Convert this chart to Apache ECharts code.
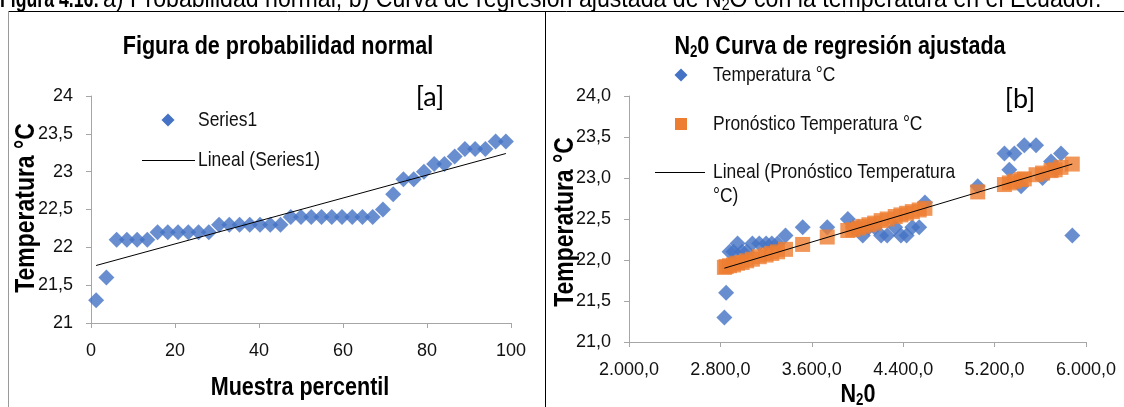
<!DOCTYPE html>
<html><head><meta charset="utf-8">
<script src="https://cdn.jsdelivr.net/npm/echarts@6/dist/echarts.min.js"></script>
<style>html,body{margin:0;padding:0;background:#fff}#c{width:1124px;height:407px}</style>
</head><body><div id="c"></div>
<script>
// ---- Panel a: normal probability plot ----
var percentil = [1.22,3.66,6.10,8.54,10.98,13.41,15.85,18.29,20.73,23.17,25.61,28.05,30.49,32.93,35.37,37.80,40.24,42.68,45.12,47.56,50.00,52.44,54.88,57.32,59.76,62.20,64.63,67.07,69.51,71.95,74.39,76.83,79.27,81.71,84.15,86.59,89.02,91.46,93.90,96.34,98.78];
var tempSorted = [21.3,21.6,22.1,22.1,22.1,22.1,22.2,22.2,22.2,22.2,22.2,22.2,22.3,22.3,22.3,22.3,22.3,22.3,22.3,22.4,22.4,22.4,22.4,22.4,22.4,22.4,22.4,22.4,22.5,22.7,22.9,22.9,23.0,23.1,23.1,23.2,23.3,23.3,23.3,23.4,23.4];
var trendA_x = [1.22, 98.78];
var trendA_y = [21.76, 23.24];
var ticksAx = [0,20,40,60,80,100];

// ---- Panel b: N2O regression ----
var n2o = [2835,2850,2880,2915,2950,2990,3030,3080,3140,3200,3250,3300,3370,3520,3735,3915,3960,4010,4046,4100,4150,4207,4260,4330,4380,4430,4480,4540,4590,5052,5286,5329,5373,5432,5460,5563,5620,5694,5730,5781,5880];
var tempB = [21.3,21.6,22.1,22.1,22.2,22.1,22.1,22.2,22.2,22.2,22.2,22.2,22.3,22.4,22.4,22.5,22.4,22.4,22.3,22.4,22.4,22.3,22.3,22.4,22.3,22.3,22.4,22.4,22.7,22.9,23.3,23.1,23.3,22.9,23.4,23.4,23.0,23.2,23.1,23.3,22.3];
var pronostico = [21.91,21.92,21.93,21.94,21.96,21.97,21.99,22.01,22.04,22.06,22.08,22.10,22.13,22.19,22.28,22.36,22.37,22.39,22.41,22.43,22.45,22.48,22.50,22.53,22.55,22.57,22.59,22.61,22.63,22.83,22.92,22.94,22.96,22.98,22.99,23.04,23.06,23.09,23.10,23.13,23.17];
var trendB_x = [2835, 5880];
var trendB_y = [21.90, 23.17];
var ticksBx = [2000,2800,3600,4400,5200,6000];

var BLUE = '#4472C4', ORANGE = '#ED7D31';
var SANS = '"Liberation Sans",Arial,sans-serif';
var NX = 0.83; // horizontal squeeze to imitate a narrow face

function zip(a, b) { return a.map(function (v, i) { return [v, b[i]]; }); }
function fmtDec1(v) { return v.toFixed(1).replace('.', ','); }
function fmtThousands(v) {
  var s = v.toFixed(1).split('.');
  return s[0].replace(/\B(?=(\d{3})+(?!\d))/g, '.') + ',' + s[1];
}

var axisLineStyle = { color: '#a6a6a6', width: 1 };
var labelStyle = { color: '#111', fontFamily: SANS, fontSize: 18 };

function txt(x, y, s, size, opts) {
  opts = opts || {};
  return { type: 'text', x: x, y: y, rotation: opts.rot || 0, scaleX: opts.sx == null ? NX : opts.sx,
    style: { text: s, fontFamily: opts.font || SANS, fontWeight: opts.bold ? 'bold' : 'normal', fontSize: size,
      fill: opts.fill || '#111', align: opts.align || 'left', verticalAlign: 'middle', rich: opts.rich } };
}
function subRich(size, bold) {
  return { n: { fontFamily: SANS, fontWeight: bold ? 'bold' : 'normal', fontSize: size, fill: '#000' },
           s: { fontFamily: SANS, fontWeight: bold ? 'bold' : 'normal', fontSize: Math.round(size * 0.62), fill: '#000', padding: [Math.round(size * 0.45), 0, 0, 0] } };
}

var captionText = '{r|a) Probabilidad normal, b) Curva de regresión ajustada de N}{s|2}{r|O con la temperatura en el Ecuador.}';

var chart = echarts.init(document.getElementById('c'), null, { renderer: 'canvas' });
chart.setOption({
  animation: false,
  backgroundColor: '#fff',
  grid: [
    { left: 91, top: 96, width: 420, height: 227 },
    { left: 629, top: 96, width: 457, height: 246 }
  ],
  xAxis: [
    { gridIndex: 0, type: 'value', min: 0, max: 100, interval: 20,
      axisLine: { show: true, lineStyle: axisLineStyle },
      axisTick: { show: true, length: 5, lineStyle: axisLineStyle },
      splitLine: { show: false },
      axisLabel: Object.assign({ margin: 19 }, labelStyle) },
    { gridIndex: 1, type: 'value', min: 2000, max: 6000,
      axisLine: { show: true, lineStyle: axisLineStyle },
      axisTick: { show: true, length: 5, lineStyle: axisLineStyle, customValues: ticksBx },
      splitLine: { show: false },
      axisLabel: Object.assign({ margin: 19, customValues: ticksBx, formatter: fmtThousands }, labelStyle) }
  ],
  yAxis: [
    { gridIndex: 0, type: 'value', min: 21, max: 24, interval: 0.5,
      axisLine: { show: true, lineStyle: axisLineStyle },
      axisTick: { show: true, length: 5, lineStyle: axisLineStyle },
      splitLine: { show: false },
      axisLabel: Object.assign({ margin: 18, formatter: function (v) { return String(v).replace('.', ','); } }, labelStyle) },
    { gridIndex: 1, type: 'value', min: 21, max: 24, interval: 0.5,
      axisLine: { show: true, lineStyle: axisLineStyle },
      axisTick: { show: true, length: 5, lineStyle: axisLineStyle },
      splitLine: { show: false },
      axisLabel: Object.assign({ margin: 18, formatter: fmtDec1 }, labelStyle) }
  ],
  series: [
    { name: 'Series1', type: 'scatter', xAxisIndex: 0, yAxisIndex: 0,
      symbol: 'diamond', symbolSize: 16, itemStyle: { color: BLUE },
      data: zip(percentil, tempSorted), z: 2 },
    { name: 'Lineal (Series1)', type: 'line', xAxisIndex: 0, yAxisIndex: 0,
      showSymbol: false, symbol: 'none', lineStyle: { color: '#000', width: 1 },
      data: zip(trendA_x, trendA_y), z: 3 },
    { name: 'Temperatura °C', type: 'scatter', xAxisIndex: 1, yAxisIndex: 1,
      symbol: 'diamond', symbolSize: 16, itemStyle: { color: BLUE },
      data: zip(n2o, tempB), z: 2 },
    { name: 'Pronóstico Temperatura °C', type: 'scatter', xAxisIndex: 1, yAxisIndex: 1,
      symbol: 'rect', symbolSize: 15, itemStyle: { color: ORANGE },
      data: zip(n2o, pronostico), z: 3 },
    { name: 'Lineal (Pronóstico Temperatura °C)', type: 'line', xAxisIndex: 1, yAxisIndex: 1,
      showSymbol: false, symbol: 'none', lineStyle: { color: '#000', width: 1 },
      data: zip(trendB_x, trendB_y), z: 4 }
  ],
  graphic: [
    // panel frames
    { type: 'line', shape: { x1: 8.5, y1: 11.5, x2: 1124, y2: 11.5 }, style: { stroke: '#000', lineWidth: 1 } },
    { type: 'line', shape: { x1: 8.5, y1: 11.5, x2: 8.5, y2: 407 }, style: { stroke: '#9a9a9a', lineWidth: 1 } },
    { type: 'line', shape: { x1: 545.5, y1: 11.5, x2: 545.5, y2: 407 }, style: { stroke: '#000', lineWidth: 1 } },
    // caption (cut at top)
    txt(0, 0, 'Figura 4.16:', 26, { bold: true, sx: 0.68, fill: '#000' }),
    txt(103, 0, captionText, 26, { sx: 0.89, rich: {
        r: { fontFamily: SANS, fontSize: 26, fill: '#000' },
        s: { fontFamily: SANS, fontSize: 16, fill: '#000', padding: [11, 0, 0, 0] } } }),
    // titles
    txt(278, 47, 'Figura de probabilidad normal', 26, { bold: true, align: 'center', fill: '#000' }),
    txt(840, 47, '{n|N}{s|2}{n|0 Curva de regresión ajustada}', 26, { align: 'center', rich: subRich(26, true) }),
    // panel tags
    txt(430, 97, '[a]', 27, { font: 'Lato,"Open Sans",sans-serif', sx: 1, align: 'center', fill: '#000' }),
    txt(1020, 99, '[b]', 27, { font: 'Lato,"Open Sans",sans-serif', sx: 1, align: 'center', fill: '#000' }),
    // axis titles
    txt(27, 208, 'Temperatura °C', 27, { bold: true, rot: Math.PI / 2, sx: 0.85, align: 'center', fill: '#000' }),
    txt(566, 222, 'Temperatura °C', 27, { bold: true, rot: Math.PI / 2, sx: 0.85, align: 'center', fill: '#000' }),
    txt(300, 388, 'Muestra percentil', 26, { bold: true, align: 'center', fill: '#000' }),
    txt(858, 395, '{n|N}{s|2}{n|0}', 26, { align: 'center', rich: subRich(26, true) }),
    // legend a
    { type: 'polygon', shape: { points: [[168, 113.5], [174.5, 120], [168, 126.5], [161.5, 120]] }, style: { fill: BLUE } },
    txt(198, 120, 'Series1', 21),
    { type: 'line', shape: { x1: 142, y1: 160.5, x2: 195, y2: 160.5 }, style: { stroke: '#000', lineWidth: 1 } },
    txt(198, 160, 'Lineal (Series1)', 21),
    // legend b
    { type: 'polygon', shape: { points: [[681, 68.5], [687.5, 75], [681, 81.5], [674.5, 75]] }, style: { fill: BLUE } },
    txt(713, 75, 'Temperatura °C', 21),
    { type: 'rect', shape: { x: 675, y: 118, width: 12, height: 12 }, style: { fill: ORANGE } },
    txt(713, 124, 'Pronóstico Temperatura °C', 21),
    { type: 'line', shape: { x1: 655, y1: 172.5, x2: 705, y2: 172.5 }, style: { stroke: '#000', lineWidth: 1 } },
    txt(713, 172, 'Lineal (Pronóstico Temperatura', 21),
    txt(713, 196, '°C)', 21)
  ]
});
</script></body></html>
